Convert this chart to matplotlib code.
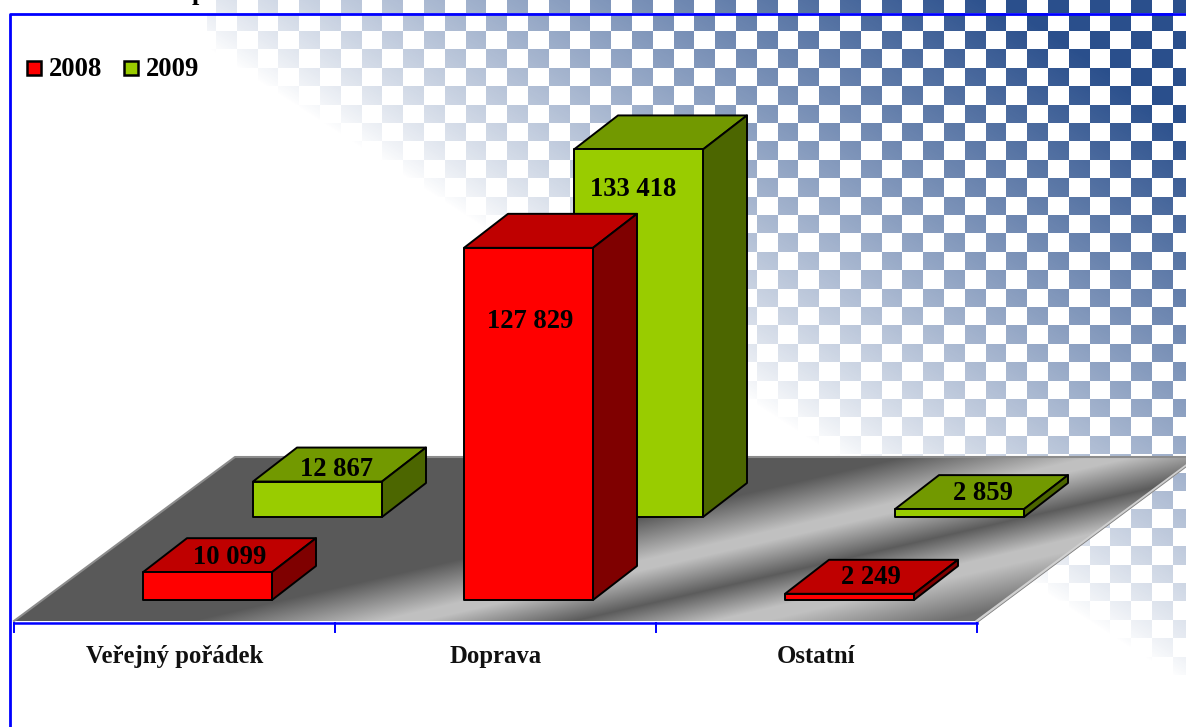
import numpy as np
import matplotlib.pyplot as plt
from matplotlib.patches import Polygon, Rectangle

# Data
categories = ['Veřejný pořádek', 'Doprava', 'Ostatní']
years = ['2008', '2009']
values_2008 = [10099, 127829, 2249]
values_2009 = [12867, 133418, 2859]
labels_2008 = ['10 099', '127 829', '2 249']
labels_2009 = ['12 867', '133 418', '2 859']

W, H = 1186, 727
PX_PER_UNIT = 0.002755
CAT_W = 321
AXIS_X0 = 14
BAR_W = 129
DX, DY = 44, 34

plt.rcParams['font.family'] = ['Liberation Serif', 'DejaVu Serif']
fig = plt.figure(figsize=(W / 100, H / 100), dpi=100)
ax = fig.add_axes([0, 0, 1, 1])
ax.set_xlim(0, W)
ax.set_ylim(H, 0)
ax.axis('off')

# Checkered background fading along a diagonal
xx, yy = np.meshgrid(np.arange(W) + 0.5, np.arange(H) + 0.5)
val = 0.65 * (xx - 210) - (yy - 50)
alpha = np.clip(val / 560, 0, 1) ** 0.85
ix = np.floor((xx - 819.3) / 20.8).astype(int)
iy = np.floor((yy - 12.6) / 18.4).astype(int)
alpha[(ix + iy) % 2 != 0] = 0
alpha[xx < 207] = 0
bg = np.zeros((H, W, 4))
bg[..., 0], bg[..., 1], bg[..., 2] = 0x2a / 255, 0x4f / 255, 0x8c / 255
bg[..., 3] = alpha
ax.imshow(bg, extent=(0, W, H, 0), aspect='auto', zorder=0, interpolation='bilinear')

# Floor with a banded grey gradient
floor_pts = [(14, 621), (235, 457), (1198, 457), (977, 621)]
t = yy + 0.23 * xx
grey = np.interp(t, [665, 708, 718, 753, 785, 797, 838],
                 [0x59, 0xc0, 0xc0, 0x5c, 0xc0, 0xc0, 0x70]) / 255
floor = ax.imshow(np.dstack([grey, grey, grey]), extent=(0, W, H, 0), aspect='auto', zorder=1)
floor.set_clip_path(Polygon(floor_pts, closed=True, transform=ax.transData))
ax.set_xlim(0, W)
ax.set_ylim(H, 0)
ax.plot([14, 235, 1198], [621, 457, 457], color='#8c8c8c', lw=1.5, zorder=2)
ax.plot([977, 1198], [621, 457], color='#d0d0d0', lw=2, zorder=2)
ax.plot([978, 1198], [622, 458], color='#808080', lw=0.6, zorder=2)


def draw_box(x, base, value, front, top, side, z):
    h = value * PX_PER_UNIT
    y = base - h
    ec = dict(edgecolor='black', linewidth=1.4, joinstyle='round', zorder=z)
    ax.add_patch(Polygon([(x, y), (x + DX, y - DY), (x + BAR_W + DX, y - DY), (x + BAR_W, y)],
                         facecolor=top, **ec))
    ax.add_patch(Polygon([(x + BAR_W, y), (x + BAR_W + DX, y - DY), (x + BAR_W + DX, base - DY), (x + BAR_W, base)],
                         facecolor=side, **ec))
    ax.add_patch(Rectangle((x, y), BAR_W, h, facecolor=front, **ec))


label_pos_2008 = [(230, 558), (530, 321), (871, 578)]
label_pos_2009 = [(337, 470), (633, 190), (983, 494)]

for i in range(len(categories)):
    x0 = AXIS_X0 + i * CAT_W
    draw_box(x0 + 239, 517, values_2009[i], '#99cc00', '#729900', '#4c6600', 3 + i)
    draw_box(x0 + 129, 600, values_2008[i], '#ff0000', '#bf0000', '#7f0000', 3.5 + i)
    ax.text(*label_pos_2008[i], labels_2008[i], ha='center', va='center', fontsize=19.2,
            fontweight='bold', zorder=10)
    ax.text(*label_pos_2009[i], labels_2009[i], ha='center', va='center', fontsize=19.2,
            fontweight='bold', zorder=10)
    ax.text(x0 + CAT_W / 2, 663, categories[i], ha='center', va='baseline', fontsize=17.8,
            fontweight='bold', color='#111111', zorder=10)

# Category axis in blue
ax.plot([AXIS_X0, AXIS_X0 + 3 * CAT_W], [623, 623], color='#0000ff', lw=1.8, zorder=5)
for i in range(4):
    ax.plot([AXIS_X0 + i * CAT_W] * 2, [623, 632], color='#0000ff', lw=1.4, zorder=5)

# Chart frame, only the top and left edges are inside the picture
ax.plot([9.5, 9.5, W], [H, 14, 14], color='#0000ff', lw=2.0, zorder=6)

# Legend
for x_sq, x_txt, year, color in zip([27, 124], [49, 146], years, ['#ff0000', '#99cc00']):
    ax.add_patch(Rectangle((x_sq, 61), 14, 14, facecolor=color, edgecolor='black', linewidth=1.8, zorder=7))
    ax.text(x_txt, 70, year, ha='left', va='center', fontsize=19.2, fontweight='bold', zorder=10)

# Cropped title, only a descender reaches the picture
ax.text(199, 0, 'p', ha='center', va='baseline', fontsize=18.8, fontweight='bold', zorder=10)

fig.savefig('out.png', dpi=100)
